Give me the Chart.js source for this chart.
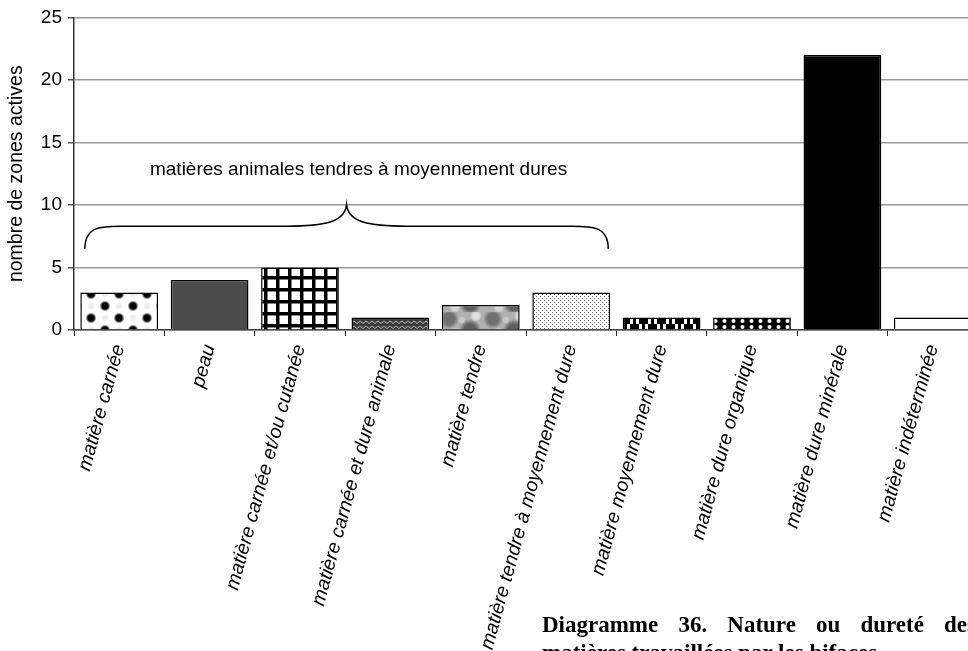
<!DOCTYPE html>
<html>
<head>
<meta charset="utf-8">
<script src="https://cdn.jsdelivr.net/npm/chart.js@4.4.1/dist/chart.umd.min.js"></script>
<style>
    html, body { margin: 0; padding: 0; background: #fff; width: 968px; height: 651px; overflow: hidden; }
    #wrap { position: absolute; left: 0; top: 0; width: 990px; height: 651px; }
    .cap { position: absolute; left: 542px; font: bold 23px "Liberation Serif", "Times New Roman", serif; line-height: 24px; color: #000; white-space: nowrap; }
    #cap1 { top: 613px; width: 434px; text-align: justify; text-align-last: justify; }
    #cap2 { top: 641px; }
</style>
</head>
<body>
<div id="wrap"><canvas id="chart" width="990" height="651"></canvas></div>
<div class="cap" id="cap1">Diagramme 36. Nature ou dureté des</div>
<div class="cap" id="cap2">matières travaillées par les bifaces</div>
<script>
// Données du diagramme
const categories = [
    'matière carnée',
    'peau',
    'matière carnée et/ou cutanée',
    'matière carnée et dure animale',
    'matière tendre',
    'matière tendre à moyennement dure',
    'matière moyennement dure',
    'matière dure organique',
    'matière dure minérale',
    'matière indéterminée'
];
const values = [3, 4, 5, 1, 2, 3, 1, 1, 22, 1];
const yTicks = [0, 5, 10, 15, 20, 25];
const yTitle = 'nombre de zones actives';
const bracketLabel = 'matières animales tendres à moyennement dures';
const bracketFrom = 0;
const bracketTo = 5;

// Crée un motif à partir d'une petite tuile
function tile(w, h, draw) {
    const c = document.createElement('canvas');
    c.width = w;
    c.height = h;
    const g = c.getContext('2d');
    draw(g, w, h);
    return document.getElementById('chart').getContext('2d').createPattern(c, 'repeat');
}

function blob(g, x, y, r, inner, outer) {
    const grad = g.createRadialGradient(x, y, 0, x, y, r);
    grad.addColorStop(0, inner);
    grad.addColorStop(0.55, inner);
    grad.addColorStop(1, outer);
    g.fillStyle = grad;
    g.beginPath();
    g.arc(x, y, r, 0, Math.PI * 2);
    g.fill();
}

const patterns = [
    // matière carnée : gros points noirs
    tile(28, 24, function(g, w, h) {
        g.fillStyle = '#fff'; g.fillRect(0, 0, w, h);
        blob(g, 7, 6, 5.5, '#000', 'rgba(0,0,0,0)');
        blob(g, 21, 18, 5.5, '#000', 'rgba(0,0,0,0)');
        blob(g, 21, 6, 4, 'rgba(0,0,0,0.07)', 'rgba(0,0,0,0)');
        blob(g, 7, 18, 4, 'rgba(0,0,0,0.07)', 'rgba(0,0,0,0)');
    }),
    '#4b4b4b',
    // quadrillage
    tile(12, 12, function(g, w, h) {
        g.fillStyle = '#fff'; g.fillRect(0, 0, w, h);
        g.fillStyle = '#000';
        g.fillRect(0, 0, 3.5, h);
        g.fillRect(0, 0, w, 3.5);
    }),
    // zigzag sombre
    tile(6, 5, function(g, w, h) {
        g.fillStyle = '#3c3c3c'; g.fillRect(0, 0, w, h);
        g.strokeStyle = '#b5b5b5'; g.lineWidth = 1;
        g.beginPath();
        g.moveTo(0, 1); g.lineTo(3, 3.5); g.lineTo(6, 1);
        g.stroke();
    }),
    // texture marbrée grise
    tile(44, 26, function(g, w, h) {
        g.fillStyle = '#b0b0b0'; g.fillRect(0, 0, w, h);
        blob(g, 9, 7, 10, '#707070', 'rgba(112,112,112,0)');
        blob(g, 30, 18, 11, '#616161', 'rgba(97,97,97,0)');
        blob(g, 36, 4, 6, '#dedede', 'rgba(222,222,222,0)');
        blob(g, 15, 21, 6, '#d6d6d6', 'rgba(214,214,214,0)');
        blob(g, 22, 8, 4, '#c8c8c8', 'rgba(200,200,200,0)');
    }),
    // pointillé fin
    tile(4, 4, function(g, w, h) {
        g.fillStyle = '#fff'; g.fillRect(0, 0, w, h);
        g.fillStyle = '#6e6e6e';
        g.fillRect(0, 0, 1, 1);
        g.fillRect(2, 2, 1, 1);
    }),
    // damier irrégulier
    tile(18, 12, function(g, w, h) {
        g.fillStyle = '#fff'; g.fillRect(0, 0, w, h);
        g.fillStyle = '#000';
        g.fillRect(0, 0, 9, 6);
        g.fillRect(9, 6, 9, 6);
        g.fillRect(12, 0, 3, 6);
        g.fillRect(3, 6, 3, 6);
    }),
    // points blancs sur noir
    tile(9, 6, function(g, w, h) {
        g.fillStyle = '#000'; g.fillRect(0, 0, w, h);
        g.fillStyle = '#fff';
        g.beginPath(); g.arc(4.5, 3, 2, 0, Math.PI * 2); g.fill();
    }),
    '#000',
    '#fff'
];

// Accolade et texte au-dessus des matières animales
const bracketPlugin = {
    id: 'bracket',
    afterDatasetsDraw: function(chart) {
        const ctx = chart.ctx;
        const x = chart.scales.x;
        const y = chart.scales.y;
        const w = x.getPixelForValue(1) - x.getPixelForValue(0);
        const x0 = x.getPixelForValue(bracketFrom) - 0.38 * w;
        const x1 = x.getPixelForValue(bracketTo) + 0.41 * w;
        const xm = (x0 + x1) / 2;
        const yEnd = y.getPixelForValue(6.5);
        const yFlat = y.getPixelForValue(8.3);
        const yTip = y.getPixelForValue(10);

        ctx.save();
        ctx.strokeStyle = '#000';
        ctx.lineWidth = 1.5;
        ctx.beginPath();
        ctx.moveTo(x0, yEnd);
        ctx.bezierCurveTo(x0, yFlat - 2, x0 + 20, yFlat, x0 + 42, yFlat);
        ctx.lineTo(xm - 60, yFlat);
        ctx.bezierCurveTo(xm - 22, yFlat, xm - 2, yFlat - 4, xm, yTip);
        ctx.bezierCurveTo(xm + 2, yFlat - 4, xm + 22, yFlat, xm + 60, yFlat);
        ctx.lineTo(x1 - 42, yFlat);
        ctx.bezierCurveTo(x1 - 20, yFlat, x1, yFlat - 2, x1, yEnd);
        ctx.stroke();

        ctx.fillStyle = '#000';
        ctx.font = '19px "Liberation Sans", Arial, sans-serif';
        ctx.textAlign = 'center';
        ctx.textBaseline = 'alphabetic';
        ctx.fillText(bracketLabel, xm + 12, y.getPixelForValue(12.4));
        ctx.restore();
    }
};

new Chart(document.getElementById('chart'), {
    type: 'bar',
    data: {
        labels: categories,
        datasets: [{
            data: values,
            backgroundColor: patterns,
            borderColor: '#000',
            borderWidth: 1.5,
            barPercentage: 0.86,
            categoryPercentage: 1
        }]
    },
    options: {
        responsive: false,
        animation: false,
        layout: {
            padding: { top: 16, right: 12, left: 0, bottom: 0 }
        },
        plugins: {
            legend: { display: false },
            tooltip: { enabled: false }
        },
        scales: {
            x: {
                grid: {
                    drawOnChartArea: false,
                    offset: true,
                    color: '#222',
                    lineWidth: 1,
                    tickLength: 6
                },
                border: { color: '#444', width: 1.5 },
                ticks: {
                    autoSkip: false,
                    minRotation: 74.5,
                    maxRotation: 74.5,
                    padding: 6,
                    color: '#000',
                    font: { family: '"Liberation Sans", Arial, sans-serif', size: 19.5, style: 'italic' }
                },
                afterFit: function(scale) {
                    scale.height = 651 - 330;
                }
            },
            y: {
                min: 0,
                max: 25,
                afterBuildTicks: function(scale) {
                    scale.ticks = yTicks.map(v => ({ value: v }));
                },
                grid: {
                    color: '#9a9a9a',
                    lineWidth: 1.5,
                    tickLength: 6,
                    tickColor: '#555'
                },
                border: { color: '#333', width: 1.5 },
                ticks: {
                    padding: 6,
                    color: '#000',
                    font: { family: '"Liberation Sans", Arial, sans-serif', size: 19 }
                },
                title: {
                    display: true,
                    text: yTitle,
                    color: '#000',
                    padding: { top: 5, bottom: 0 },
                    font: { family: '"Liberation Sans", Arial, sans-serif', size: 19.5 }
                },
                afterFit: function(scale) {
                    scale.width = 74;
                }
            }
        }
    },
    plugins: [bracketPlugin]
});
</script>
</body>
</html>
